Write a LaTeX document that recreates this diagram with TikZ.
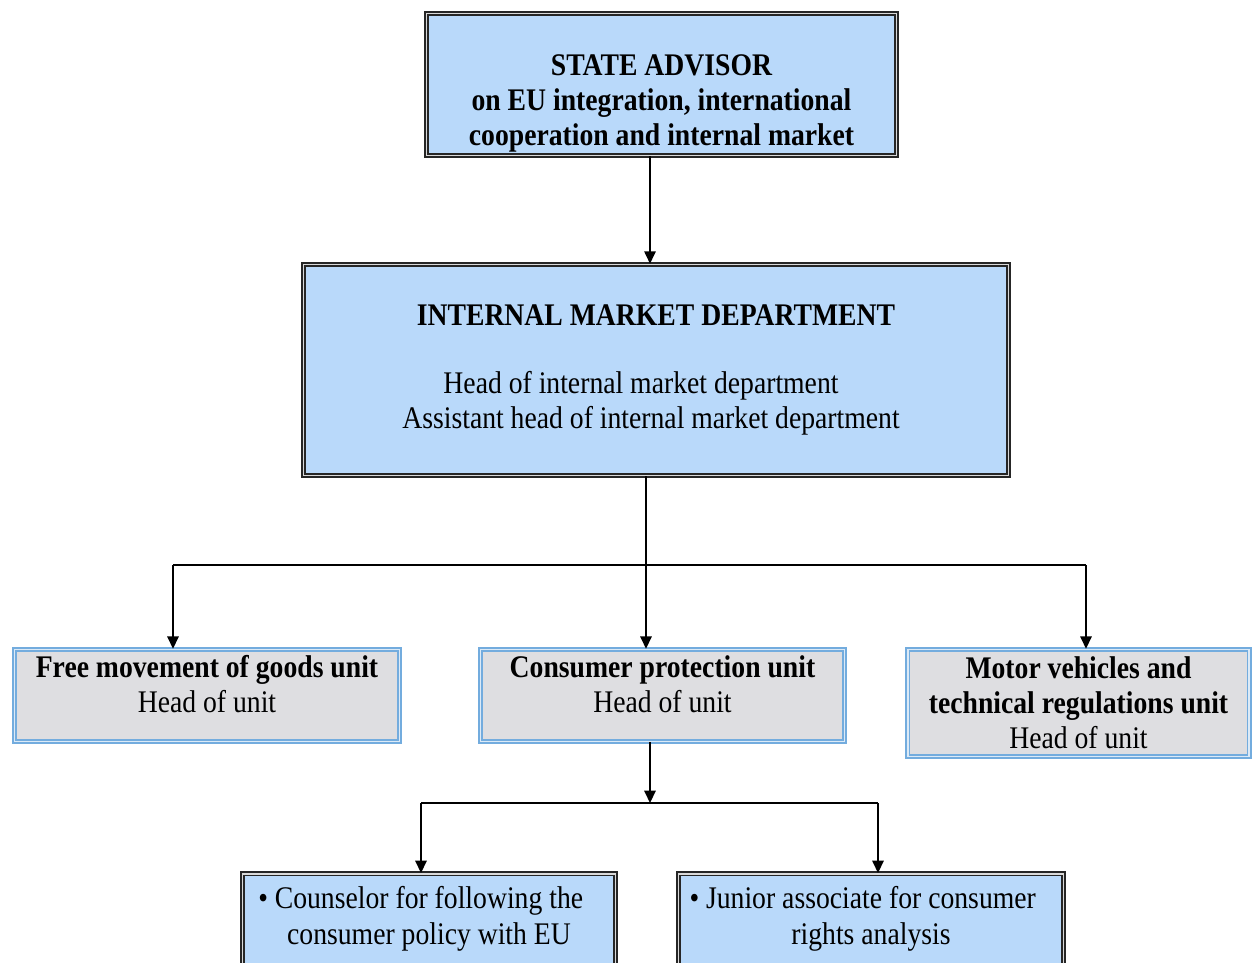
\documentclass[tikz,border=0pt]{standalone}
\usepackage{fontspec}
\setmainfont[FakeStretch=0.88]{Liberation Serif}
\usetikzlibrary{arrows.meta}
\definecolor{boxblue}{RGB}{185,217,250}
\definecolor{boxgray}{RGB}{222,222,225}
\definecolor{edgeblue}{RGB}{115,172,222}
\newcommand{\orgfont}{\fontsize{17.9pt}{20pt}\selectfont}
\tikzset{
  >={Triangle[length=7pt,width=6.5pt]},
  orgbox/.style={draw=black!85, double=white!85!black, line width=0.9pt, double distance=1.1pt,
    fill=boxblue, align=center, inner sep=2pt, font=\orgfont},
  unitbox/.style={draw=edgeblue, double=edgeblue!25, line width=0.85pt, double distance=1pt,
    fill=boxgray, align=center, inner sep=2pt, font=\orgfont},
  link/.style={line width=0.8pt}
}
\begin{document}
\begin{tikzpicture}
\useasboundingbox (0,0) rectangle (25.06,-19.26);
\clip (0,0) rectangle (25.06,-19.26);
\node[orgbox, minimum width=9.40cm, minimum height=2.82cm, font=\orgfont\bfseries] (adv) at (13.23,-1.69)
  {\rule{0pt}{1.16cm}STATE ADVISOR\\on EU integration, international\\cooperation and internal market};
\node[orgbox, minimum width=14.10cm, minimum height=4.22cm] (dep) at (13.12,-7.40)
  {\textbf{INTERNAL MARKET DEPARTMENT}\\[0.66cm]Head of internal market department\hspace*{0.6cm}\mbox{}\\Assistant head of internal market department\hspace*{0.2cm}\mbox{}};
\node[unitbox, minimum width=7.70cm, minimum height=1.84cm] (goods) at (4.14,-13.91)
  {\textbf{Free movement of goods unit}\\Head of unit\rule[-0.46cm]{0pt}{0.46cm}};
\node[unitbox, minimum width=7.28cm, minimum height=1.84cm] (cons) at (13.25,-13.91)
  {\textbf{Consumer protection unit}\\Head of unit\rule[-0.46cm]{0pt}{0.46cm}};
\node[unitbox, minimum width=6.83cm, minimum height=2.14cm] (motor) at (21.57,-14.06)
  {\textbf{Motor vehicles and}\\\textbf{technical regulations unit}\\Head of unit};
\node[orgbox, anchor=north, minimum width=7.46cm, inner ysep=0.26cm] (couns) at (8.58,-17.46)
  {\llap{\textbullet\ }Counselor for following the\\consumer policy with EU\rule[-2cm]{0pt}{2cm}};
\node[orgbox, anchor=north, minimum width=7.70cm, inner ysep=0.26cm] (junior) at (17.42,-17.46)
  {\llap{\textbullet\ }Junior associate for consumer\\rights analysis\rule[-2cm]{0pt}{2cm}};
% branch points
\coordinate (j1) at (12.92,-11.30);
\coordinate (bl) at (3.46,-11.30);
\coordinate (br) at (21.72,-11.30);
\coordinate (j2) at (13.00,-16.06);
\coordinate (sl) at (8.42,-16.06);
\coordinate (sr) at (17.56,-16.06);
\draw[link,->] (adv.south -| j2) -- (dep.north -| j2);
\draw[link,->] (dep.south -| j1) -- (cons.north -| j1);
\draw[link] (bl) -- (br);
\draw[link,->] (bl) -- (goods.north -| bl);
\draw[link,->] (br) -- (motor.north -| br);
\draw[link,->] (cons.south -| j2) -- (j2);
\draw[link] (sl) -- (sr);
\draw[link,->] (sl) -- (couns.north -| sl);
\draw[link,->] (sr) -- (junior.north -| sr);
\end{tikzpicture}
\end{document}
